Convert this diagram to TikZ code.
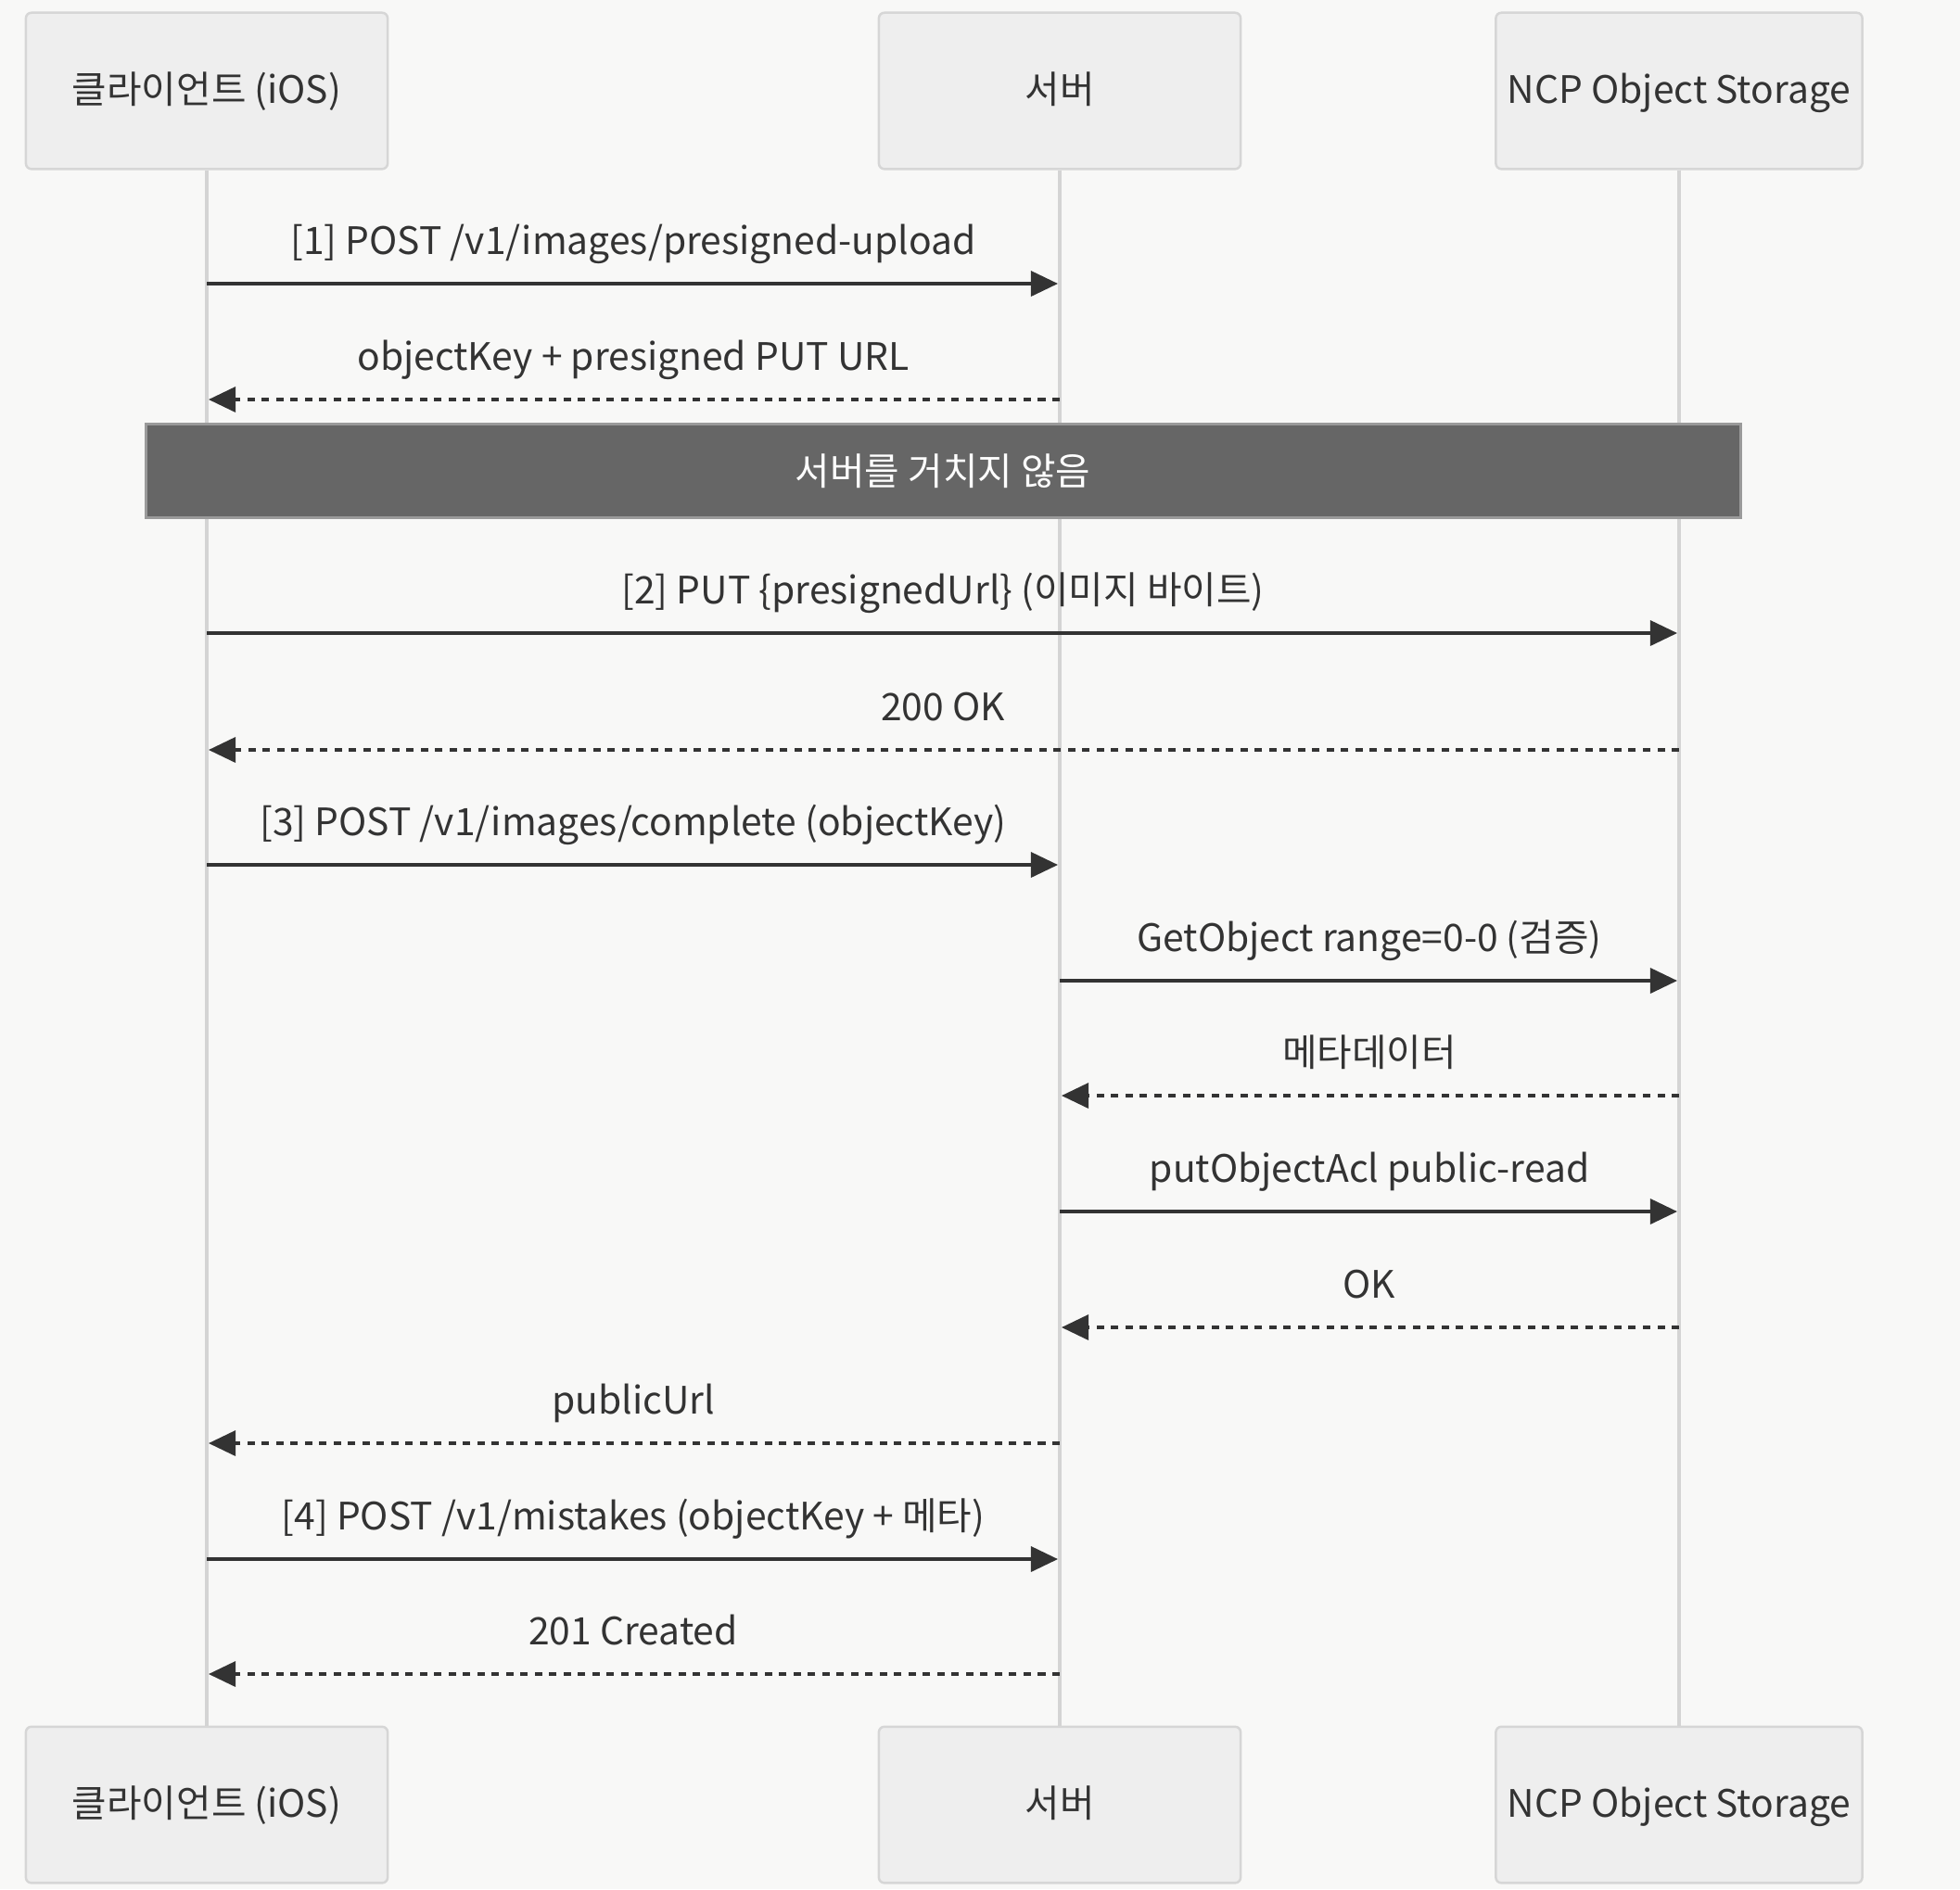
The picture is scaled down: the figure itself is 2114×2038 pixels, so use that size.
\documentclass[tikz,border=0pt]{standalone}
\usepackage{fontspec}
\setmainfont{Noto Sans CJK KR}
\usepackage{tikz}
\usetikzlibrary{positioning, arrows.meta}

\definecolor{bgcol}{HTML}{F8F8F7}
\definecolor{boxfill}{HTML}{EEEEEE}
\definecolor{boxline}{HTML}{D6D6D6}
\definecolor{lifecol}{HTML}{D4D4D4}
\definecolor{inkcol}{HTML}{333333}
\definecolor{notefill}{HTML}{666666}
\definecolor{noteline}{HTML}{9A9A9A}

\tikzset{
  actor/.style={draw=boxline, fill=boxfill, rounded corners=0.06cm, line width=0.025cm,
    minimum width=3.9cm, minimum height=1.685cm, text=inkcol, text height=0.95em, text depth=0.2em},
  lifeline/.style={draw=lifecol, line width=0.047cm},
  msg/.style={draw=inkcol, line width=0.033cm, shorten >=0.02cm, -{Triangle[length=0.29cm, width=0.27cm]}},
  reply/.style={msg, dash pattern=on 0.08cm off 0.075cm},
  lbl/.style={midway, yshift=0.42cm, text=inkcol, text height=0.8em, text depth=0.22em},
}

\begin{document}
\begin{tikzpicture}[x=0.01cm, y=-0.01cm, node distance=16.77cm, font=\fontsize{11.6}{14}\selectfont]
			\fill[bgcol] (0,0) rectangle (2114,2038);
			\useasboundingbox (0,0) rectangle (2114,2038);
			% participants
			\node[actor] (client) at (223,98) {클라이언트 (iOS)};
			\node[actor] (server) at (1143,98) {서버};
			\node[actor, minimum width=3.95cm] (storage) at (1811,98) {NCP Object Storage};
			\node[actor, below=of client] (client bot) {클라이언트 (iOS)};
			\node[actor, below=of server] (server bot) {서버};
			\node[actor, minimum width=3.95cm, below=of storage] (storage bot) {NCP Object Storage};
			\draw[lifeline] (client) -- (client bot);
			\draw[lifeline] (server) -- (server bot);
			\draw[lifeline] (storage) -- (storage bot);
			% messages
			\draw[msg] (client |- 0,306) -- node[lbl] {[1] POST /v1/images/presigned-upload} (server |- 0,306);
			\draw[reply] (server |- 0,431) -- node[lbl] {objectKey + presigned PUT URL} (client |- 0,431);
			\node[draw=noteline, fill=notefill, line width=0.03cm, text=white, minimum width=17.19cm, minimum height=1.01cm] (bypass) at (1017,508) {서버를 거치지 않음};
			\draw[msg] (client |- 0,683) -- node[lbl] {[2] PUT \{presignedUrl\} (이미지 바이트)} (storage |- 0,683);
			\draw[reply] (storage |- 0,809) -- node[lbl] {200 OK} (client |- 0,809);
			\draw[msg] (client |- 0,933) -- node[lbl] {[3] POST /v1/images/complete (objectKey)} (server |- 0,933);
			\draw[msg] (server |- 0,1058) -- node[lbl] {GetObject range=0-0 (검증)} (storage |- 0,1058);
			\draw[reply] (storage |- 0,1182) -- node[lbl] {메타데이터} (server |- 0,1182);
			\draw[msg] (server |- 0,1307) -- node[lbl] {putObjectAcl public-read} (storage |- 0,1307);
			\draw[reply] (storage |- 0,1432) -- node[lbl] {OK} (server |- 0,1432);
			\draw[reply] (server |- 0,1557) -- node[lbl] {publicUrl} (client |- 0,1557);
			\draw[msg] (client |- 0,1682) -- node[lbl] {[4] POST /v1/mistakes (objectKey + 메타)} (server |- 0,1682);
			\draw[reply] (server |- 0,1806) -- node[lbl] {201 Created} (client |- 0,1806);
\end{tikzpicture}
\end{document}
